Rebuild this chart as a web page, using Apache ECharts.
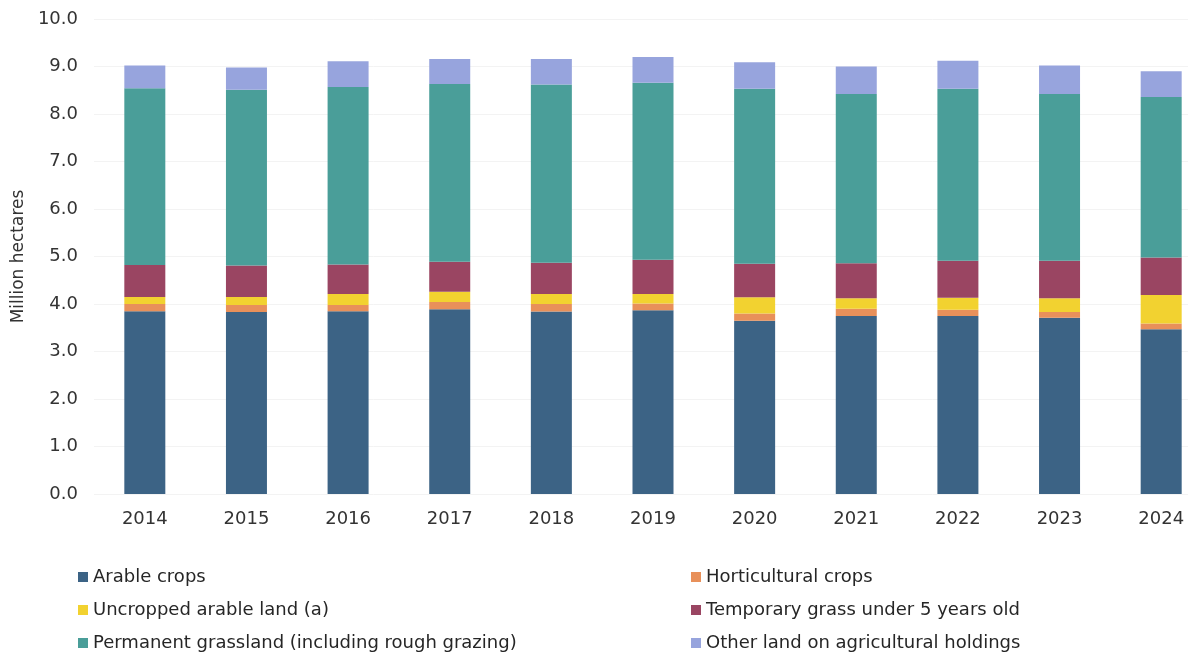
<!DOCTYPE html>
<html>
<head>
<meta charset="utf-8">
<style>
  html, body { margin: 0; padding: 0; background: #ffffff; overflow: hidden; }
  /* the plot band runs slightly past the right edge of the window */
  #chart { width: 1212px; height: 656px; }
</style>
<script src="https://cdn.jsdelivr.net/npm/echarts@6/dist/echarts.min.js"></script>
</head>
<body>
<div id="chart"></div>
<script>
// Agricultural land use, million hectares
const years = ['2014', '2015', '2016', '2017', '2018', '2019', '2020', '2021', '2022', '2023', '2024'];
const arableCrops      = [3.85, 3.83, 3.85, 3.89, 3.84, 3.87, 3.65, 3.75, 3.75, 3.71, 3.47];
const horticultural    = [0.15, 0.15, 0.13, 0.15, 0.16, 0.14, 0.15, 0.15, 0.13, 0.12, 0.12];
const uncroppedArable  = [0.15, 0.17, 0.23, 0.22, 0.21, 0.20, 0.34, 0.22, 0.25, 0.29, 0.60];
const temporaryGrass   = [0.67, 0.66, 0.62, 0.63, 0.66, 0.72, 0.71, 0.74, 0.78, 0.79, 0.79];
const permanentGrass   = [3.72, 3.70, 3.74, 3.74, 3.75, 3.73, 3.68, 3.56, 3.62, 3.51, 3.38];
const otherLand        = [0.48, 0.47, 0.54, 0.53, 0.54, 0.54, 0.56, 0.58, 0.59, 0.60, 0.54];
const yTicks = [0, 1, 2, 3, 4, 5, 6, 7, 8, 9, 10];

const seriesDefs = [
  { name: 'Arable crops', data: arableCrops, color: '#3c6385' },
  { name: 'Horticultural crops', data: horticultural, color: '#e8905a' },
  { name: 'Uncropped arable land (a)', data: uncroppedArable, color: '#f2d230' },
  { name: 'Temporary grass under 5 years old', data: temporaryGrass, color: '#9a4562' },
  { name: 'Permanent grassland (including rough grazing)', data: permanentGrass, color: '#4a9e99' },
  { name: 'Other land on agricultural holdings', data: otherLand, color: '#97a4dd' }
];

const FONT = 'DejaVu Sans, Liberation Sans, Arial, sans-serif';
const chart = echarts.init(document.getElementById('chart'), null, { renderer: 'canvas' });

const legendText = { fontFamily: FONT, fontSize: 18, color: '#262626' };
const legendBase = {
  orient: 'vertical', top: 568, height: 100, padding: 0,
  itemWidth: 10, itemHeight: 10, itemGap: 15,
  icon: 'rect', textStyle: legendText
};

chart.setOption({
  animation: false,
  backgroundColor: '#ffffff',
  grid: { left: 94, right: 0, top: 19, bottom: 162, containLabel: false },
  legend: [
    Object.assign({}, legendBase, {
      left: 78,
      data: ['Arable crops', 'Uncropped arable land (a)', 'Permanent grassland (including rough grazing)']
    }),
    Object.assign({}, legendBase, {
      left: 691,
      data: ['Horticultural crops', 'Temporary grass under 5 years old', 'Other land on agricultural holdings']
    })
  ],
  xAxis: {
    type: 'category',
    data: years,
    axisLine: { show: false },
    axisTick: { show: false },
    axisLabel: { fontFamily: FONT, fontSize: 18, color: '#333333', margin: 16 }
  },
  yAxis: {
    type: 'value',
    min: yTicks[0],
    max: yTicks[yTicks.length - 1],
    interval: 1,
    name: 'Million hectares',
    nameLocation: 'middle',
    nameGap: 60,
    nameTextStyle: { fontFamily: FONT, fontSize: 17, color: '#333333' },
    axisLine: { show: false },
    axisTick: { show: false },
    splitLine: { lineStyle: { color: '#f3f3f3', width: 1 } },
    axisLabel: {
      fontFamily: FONT, fontSize: 18, color: '#333333', margin: 16,
      formatter: v => v.toFixed(1)
    }
  },
  series: seriesDefs.map(s => ({
    name: s.name,
    type: 'bar',
    stack: 'land',
    barWidth: 41,
    data: s.data,
    itemStyle: { color: s.color }
  }))
});
</script>
</body>
</html>
